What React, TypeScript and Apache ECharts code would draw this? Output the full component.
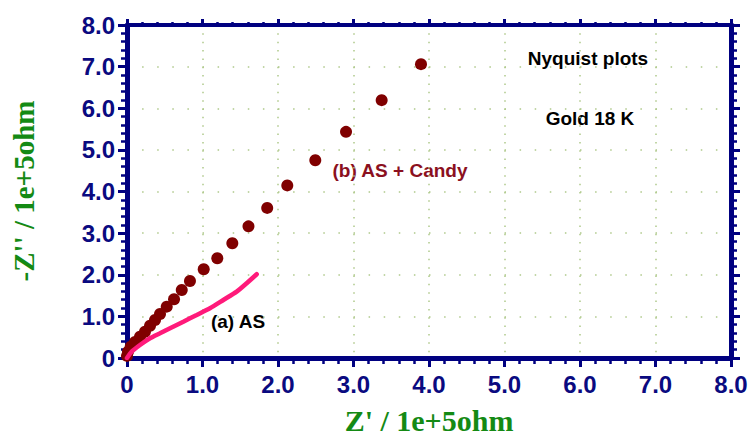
import React, { useEffect, useRef } from "react";
import * as echarts from "echarts";

const xTicks = [0, 1, 2, 3, 4, 5, 6, 7, 8];
const asCandyZre = [3.894, 3.373, 2.901, 2.494, 2.123, 1.857, 1.609, 1.395, 1.196, 1.016, 0.834, 0.725, 0.623, 0.526, 0.437, 0.371, 0.305, 0.238, 0.172, 0.106, 0.049, 0.013, 0.0];
const asCandyZim = [7.06, 6.195, 5.433, 4.752, 4.147, 3.606, 3.163, 2.757, 2.396, 2.132, 1.851, 1.635, 1.411, 1.233, 1.058, 0.913, 0.776, 0.632, 0.512, 0.385, 0.272, 0.151, 0.05];
const asZre = [0.0, 0.062, 0.172, 0.305, 0.437, 0.57, 0.746, 0.923, 1.099, 1.276, 1.453, 1.585, 1.718];
const asZim = [0.0, 0.151, 0.312, 0.473, 0.593, 0.714, 0.873, 1.034, 1.195, 1.394, 1.594, 1.796, 2.012];

const NAVY = "#000080";
const LABEL = "#0a0a80";
const GRIDC = "#afc98a";

function fmt(v: number) {
  return v === 0 ? "0" : v.toFixed(1);
}

function axisBase(extra: any) {
  return {
    type: "value",
    min: xTicks[0],
    max: xTicks[xTicks.length - 1],
    interval: 1,
    axisLine: { show: true, onZero: false, lineStyle: { color: NAVY, width: 5 } },
    axisTick: { show: true, inside: false, length: 9, lineStyle: { color: NAVY, width: 3 } },
    minorTick: { show: true, splitNumber: 5, length: 6, lineStyle: { color: NAVY, width: 2.5 } },
    ...extra,
  };
}

export default function App() {
  const ref = useRef<HTMLDivElement>(null);
  useEffect(() => {
    document.body.style.margin = "0";
    const chart = echarts.init(ref.current!, undefined, { renderer: "svg" });
    const labelStyle = {
      show: true,
      color: LABEL,
      fontSize: 24,
      fontWeight: "bold",
      fontFamily: "'Liberation Sans', Arial, sans-serif",
      formatter: (v: number) => fmt(v),
    };
    chart.setOption({
      animation: false,
      backgroundColor: "#ffffff",
      grid: { left: 127, right: 22, top: 25, bottom: 77, containLabel: false },
      xAxis: [
        axisBase({
          position: "bottom",
          axisLabel: { ...labelStyle, margin: 14 },
          splitLine: { show: true, lineStyle: { color: GRIDC, width: 1.5, type: [1.5, 6.85] } },
        }),
        axisBase({
          position: "top",
          axisLabel: { show: false },
          axisTick: { show: true, inside: false, length: 6, lineStyle: { color: NAVY, width: 3 } },
          minorTick: { show: true, splitNumber: 5, length: 3, lineStyle: { color: NAVY, width: 2.5 } },
          axisLine: { show: true, onZero: false, lineStyle: { color: NAVY, width: 4 } },
          splitLine: { show: false },
        }),
      ],
      yAxis: [
        axisBase({
          position: "left",
          axisLabel: { ...labelStyle, margin: 12 },
          splitLine: { show: true, lineStyle: { color: GRIDC, width: 1.5, type: [1.5, 13.6] } },
        }),
        axisBase({
          position: "right",
          axisLabel: { show: false },
          splitLine: { show: false },
        }),
      ],
      graphic: [
        {
          type: "text",
          x: 429,
          y: 420,
          style: {
            text: "Z' / 1e+5ohm",
            fill: "#148a14",
            font: "bold 30px 'Liberation Serif', 'Times New Roman', serif",
            textAlign: "center",
            textVerticalAlign: "middle",
          },
        },
        {
          type: "text",
          x: 24,
          y: 191,
          rotation: Math.PI / 2,
          style: {
            text: "-Z'' / 1e+5ohm",
            fill: "#148a14",
            font: "bold 29px 'Liberation Serif', 'Times New Roman', serif",
            textAlign: "center",
            textVerticalAlign: "middle",
          },
        },
        {
          type: "text",
          x: 588,
          y: 58,
          style: {
            text: "Nyquist plots",
            fill: "#000000",
            font: "bold 19px 'Liberation Sans', Arial, sans-serif",
            textAlign: "center",
            textVerticalAlign: "middle",
          },
        },
        {
          type: "text",
          x: 590,
          y: 118,
          style: {
            text: "Gold 18 K",
            fill: "#000000",
            font: "bold 19px 'Liberation Sans', Arial, sans-serif",
            textAlign: "center",
            textVerticalAlign: "middle",
          },
        },
        {
          type: "text",
          x: 400,
          y: 170,
          style: {
            text: "(b) AS + Candy",
            fill: "#8b1020",
            font: "bold 19px 'Liberation Sans', Arial, sans-serif",
            textAlign: "center",
            textVerticalAlign: "middle",
          },
        },
        {
          type: "text",
          x: 238,
          y: 321,
          style: {
            text: "(a) AS",
            fill: "#000000",
            font: "bold 19px 'Liberation Sans', Arial, sans-serif",
            textAlign: "center",
            textVerticalAlign: "middle",
          },
        },
      ],
      series: [
        {
          name: "(b) AS + Candy",
          type: "scatter",
          xAxisIndex: 0,
          yAxisIndex: 0,
          symbol: "circle",
          symbolSize: 12,
          itemStyle: { color: "#800000", opacity: 1 },
          data: asCandyZre.map((x, i) => [x, asCandyZim[i]]),
        },
        {
          name: "(a) AS",
          type: "line",
          xAxisIndex: 0,
          yAxisIndex: 0,
          showSymbol: false,
          smooth: 0.2,
          lineStyle: { color: "#ff1a7a", width: 4.5, cap: "round" },
          data: asZre.map((x, i) => [x, asZim[i]]),
        },
      ],
    });
    return () => chart.dispose();
  }, []);
  return <div ref={ref} style={{ width: 753, height: 435 }} />;
}
